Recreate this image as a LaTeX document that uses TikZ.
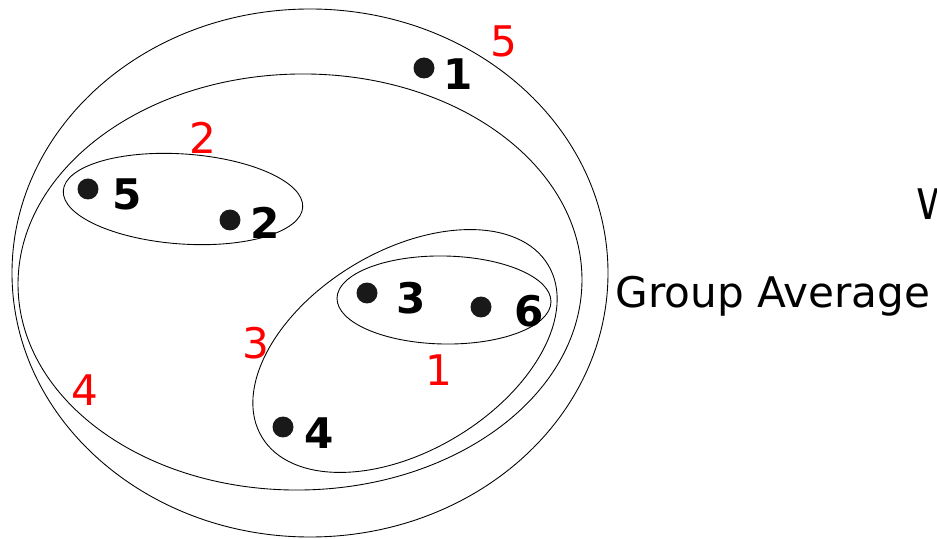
\documentclass[tikz,border=0pt]{standalone}
\usepackage{fontspec}
\setsansfont{DejaVu Sans}
\usepackage{tikz}
\usetikzlibrary{positioning}

\begin{document}
\begin{tikzpicture}[
    x=0.02cm, y=0.02cm,
    cluster/.style={draw, line width=0.5pt},
    ptdot/.style={circle, fill=black!90, inner sep=0pt, minimum size=0.42cm},
    ptlabel/.style={font=\sffamily\bfseries\fontsize{24}{28}\selectfont, inner sep=0pt},
    mergelabel/.style={font=\sffamily\fontsize{24}{28}\selectfont, text=red, inner sep=0pt}
]
\clip (0,0) rectangle (937,538);

% clusters, outermost first
\draw[cluster] (310,265) ellipse [x radius=298, y radius=264];
\draw[cluster, rotate around={1:(300,256)}] (300,256) ellipse [x radius=282, y radius=208];
\draw[cluster, rotate around={-4:(183,339)}] (183,339) ellipse [x radius=120, y radius=45];
\draw[cluster, rotate around={31:(405,187)}] (405,187) ellipse [x radius=167, y radius=100];
\draw[cluster, rotate around={-1:(444,238)}] (444,238) ellipse [x radius=107, y radius=44];

% points
\node[ptdot] (p1) at (424,470) {};
\node[ptdot] (p2) at (230,318) {};
\node[ptdot] (p3) at (367,245) {};
\node[ptdot] (p4) at (283,111) {};
\node[ptdot] (p5) at (88,349) {};
\node[ptdot] (p6) at (481,231) {};

\node[ptlabel, right=0.17cm of p1, yshift=-0.12cm] (l1) {1};
\node[ptlabel, right=0.19cm of p2, yshift=-0.06cm] (l2) {2};
\node[ptlabel, right=0.37cm of p3, yshift=-0.10cm] (l3) {3};
\node[ptlabel, right=0.21cm of p4, yshift=-0.12cm] (l4) {4};
\node[ptlabel, right=0.27cm of p5, yshift=-0.10cm] (l5) {5};
\node[ptlabel, right=0.45cm of p6, yshift=-0.08cm] (l6) {6};

% merge order
\node[mergelabel] (m1) at (439,168) {1};
\node[mergelabel] (m2) at (203,400) {2};
\node[mergelabel] (m3) at (256,195) {3};
\node[mergelabel] (m4) at (85,148) {4};
\node[mergelabel] (m5) at (504,497) {5};

\node[font=\sffamily\fontsize{24}{28}\selectfont, anchor=base west, inner sep=0pt] (ga) at (615,230) {Group Average};
\node[font=\sffamily\fontsize{24}{28}\selectfont, anchor=base west, inner sep=0pt] (wd) at (916,318) {W};

\end{tikzpicture}
\end{document}
